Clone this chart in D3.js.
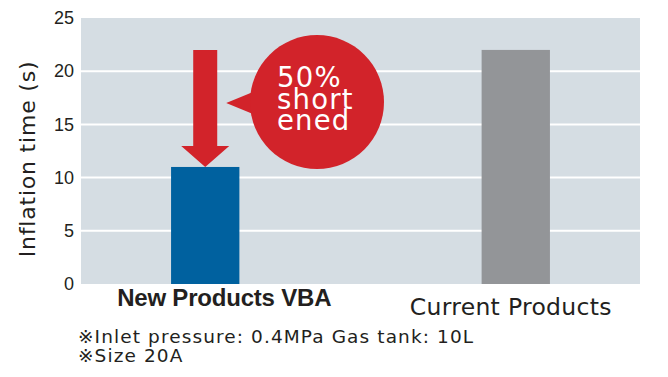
<!DOCTYPE html>
<html>
<head>
<meta charset="utf-8">
<script src="https://cdn.jsdelivr.net/npm/d3@7/dist/d3.min.js"></script>
<style>
  body { margin: 0; background: #fff; }
  svg { display: block; }
</style>
</head>
<body>
<div id="chart"></div>
<script>
// chart data
const categories = ["New Products VBA", "Current Products"];
const inflationTime = [11, 22];
const barColors = ["#00619f", "#939598"];
const yTicks = [0, 5, 10, 15, 20, 25];
const yTitle = "Inflation time (s)";
const calloutLines = ["50%", "short", "ened"];
const footnotes = ["※Inlet pressure: 0.4MPa Gas tank: 10L", "※Size 20A"];

const width = 668,
    height = 377;
const plot = { left: 81, right: 640, top: 18, bottom: 284 };
const red = "#d2232a";

const svg = d3.select("#chart")
    .append("svg")
    .attr("width", width)
    .attr("height", height);

let x = d3.scaleBand()
    .domain(categories)
    .range([plot.left, plot.right])
    .paddingInner(0.78)
    .paddingOuter(0.29);

let y = d3.scaleLinear()
    .domain([0, 25])
    .range([plot.bottom, plot.top]);

// plot background
svg.append("rect")
    .attr("x", plot.left)
    .attr("y", plot.top)
    .attr("width", plot.right - plot.left)
    .attr("height", plot.bottom - plot.top)
    .attr("fill", "#d5dde3");

// white grid lines
svg.append("g")
    .selectAll("line")
    .data(yTicks.filter(t => t > 0 && t < 25))
    .enter()
    .append("line")
    .attr("x1", plot.left)
    .attr("x2", plot.right)
    .attr("y1", d => y(d))
    .attr("y2", d => y(d))
    .attr("stroke", "#fff")
    .attr("stroke-width", 2);

// y axis labels
const yAxis = svg.append("g")
    .attr("transform", "translate(" + plot.left + ",0)")
    .call(d3.axisLeft(y).tickValues(yTicks).tickSize(0).tickPadding(7));
yAxis.select(".domain").remove();
yAxis.selectAll("text")
    .attr("font-family", "Liberation Sans, Arial, sans-serif")
    .attr("font-size", 18)
    .attr("fill", "#231f20");

svg.append("text")
    .attr("transform", "translate(35," + 159 + ") rotate(-90)")
    .attr("text-anchor", "middle")
    .attr("font-family", "DejaVu Sans, sans-serif")
    .attr("font-size", 22)
    .attr("letter-spacing", 0.8)
    .attr("fill", "#231f20")
    .text(yTitle);

// bars
svg.append("g")
    .selectAll("rect")
    .data(categories)
    .enter()
    .append("rect")
    .attr("x", d => x(d))
    .attr("y", (d, i) => y(inflationTime[i]))
    .attr("width", x.bandwidth())
    .attr("height", (d, i) => y(0) - y(inflationTime[i]))
    .attr("fill", (d, i) => barColors[i]);

// category labels
const labelDx = [19, -5];
svg.append("g")
    .selectAll("text")
    .data(categories)
    .enter()
    .append("text")
    .attr("x", (d, i) => x(d) + x.bandwidth() / 2 + labelDx[i])
    .attr("y", (d, i) => i === 0 ? 306 : 315)
    .attr("text-anchor", "middle")
    .attr("font-family", (d, i) => i === 0 ? "Liberation Sans, Arial, sans-serif" : "DejaVu Sans, sans-serif")
    .attr("font-weight", (d, i) => i === 0 ? "bold" : "normal")
    .attr("font-size", (d, i) => i === 0 ? 24 : 23.5)
    .attr("letter-spacing", (d, i) => i === 0 ? -0.2 : 0.3)
    .attr("fill", "#231f20")
    .text(d => d);

// arrow from current time down to new time
const ax = x(categories[0]) + x.bandwidth() / 2;
const yFrom = y(inflationTime[1]),
    yTo = y(inflationTime[0]);
const shaftW = 12,
    headW = 24,
    headH = 21;
svg.append("path")
    .attr("d", d3.line()([
        [ax - shaftW, yFrom],
        [ax + shaftW, yFrom],
        [ax + shaftW, yTo - headH],
        [ax + headW, yTo - headH],
        [ax, yTo],
        [ax - headW, yTo - headH],
        [ax - shaftW, yTo - headH]
    ]) + "Z")
    .attr("fill", red);

// speech bubble
const cx = 317,
    cy = y(17.1),
    r = 67;
svg.append("path")
    .attr("d", d3.line()([
        [ax + 21, cy + 1],
        [cx - r + 8, cy - 12],
        [cx - r + 8, cy + 14]
    ]) + "Z")
    .attr("fill", red);
svg.append("circle")
    .attr("cx", cx)
    .attr("cy", cy)
    .attr("r", r)
    .attr("fill", red);

svg.append("g")
    .selectAll("text")
    .data(calloutLines)
    .enter()
    .append("text")
    .attr("x", 277)
    .attr("y", (d, i) => 87 + i * 21.5)
    .attr("font-family", "DejaVu Sans, sans-serif")
    .attr("font-size", 27.5)
    .attr("letter-spacing", 1.2)
    .attr("fill", "#fff")
    .text(d => d);

// footnotes
svg.append("g")
    .selectAll("text")
    .data(footnotes)
    .enter()
    .append("text")
    .attr("x", 78)
    .attr("y", (d, i) => 343 + i * 18.5)
    .attr("font-family", "DejaVu Sans, sans-serif")
    .attr("font-size", 18.5)
    .attr("letter-spacing", 1.1)
    .attr("fill", "#231f20")
    .text(d => d);
</script>
</body>
</html>
